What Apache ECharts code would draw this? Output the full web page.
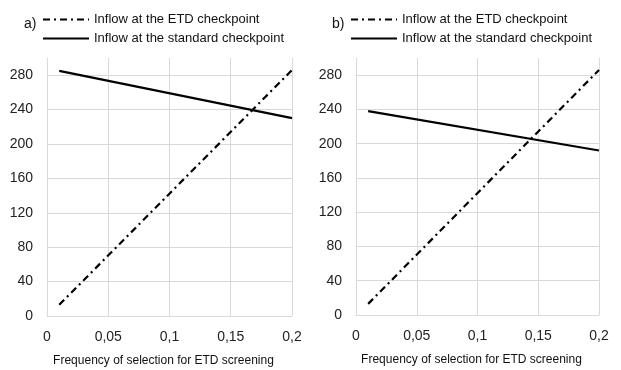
<!DOCTYPE html>
<html>
<head>
<meta charset="utf-8">
<script src="https://cdn.jsdelivr.net/npm/echarts@6/dist/echarts.min.js"></script>
<style>
  html, body { margin: 0; padding: 0; background: #fff; }
  #chart { width: 621px; height: 370px; }
</style>
</head>
<body>
<div id="chart"></div>
<script>
// values: [frequency, inflow]
const etdA = [[0.01, 13], [0.2, 286]];
const stdA = [[0.01, 285], [0.2, 230]];
const etdB = [[0.01, 13], [0.2, 286]];
const stdB = [[0.01, 238], [0.2, 192]];

const xTickLabels = ['0', '0,05', '0,1', '0,15', '0,2'];
const yTicks = [0, 40, 80, 120, 160, 200, 240, 280];

const ETD_NAME = 'Inflow at the ETD checkpoint';
const STD_NAME = 'Inflow at the standard checkpoint';
const FONT = '"Liberation Sans", Arial, sans-serif';

const chart = echarts.init(document.getElementById('chart'));

function xAxisFor(idx) {
    return {
        type: 'value', gridIndex: idx, min: 0, max: 0.2, interval: 0.05,
        name: 'Frequency of selection for ETD screening',
        nameLocation: 'middle', nameGap: 39,
        nameTextStyle: { fontFamily: FONT, fontSize: 12, color: '#111', padding: [0, 12, 0, 0] },
        axisLine: { show: true, lineStyle: { color: '#d9d9d9', width: 1 } },
        axisTick: { show: false },
        axisLabel: {
            fontFamily: FONT, fontSize: 14, color: '#222', margin: 14,
            formatter: (v, i) => xTickLabels[i]
        },
        splitLine: { show: true, lineStyle: { color: '#d9d9d9', width: 1 } }
    };
}

function yAxisFor(idx) {
    return {
        type: 'value', gridIndex: idx, min: 0, max: 300, interval: 40,
        axisLine: { show: false },
        axisTick: { show: false },
        axisLabel: {
            fontFamily: FONT, fontSize: 14, color: '#222', margin: 14,
            formatter: v => (yTicks.indexOf(v) >= 0 ? String(v) : '')
        },
        splitLine: { show: true, showMaxLine: false, lineStyle: { color: '#d9d9d9', width: 1 } }
    };
}

const etdStyle = { color: '#000', width: 2.2, type: [7, 4, 2, 4] };
const stdStyle = { color: '#000', width: 2.2, type: 'solid' };

function seriesFor(idx, etd, std) {
    return [
        {
            name: ETD_NAME, type: 'line', xAxisIndex: idx, yAxisIndex: idx,
            data: etd, symbol: 'none', color: '#000', lineStyle: etdStyle, silent: true
        },
        {
            name: STD_NAME, type: 'line', xAxisIndex: idx, yAxisIndex: idx,
            data: std, symbol: 'none', color: '#000', lineStyle: stdStyle, silent: true
        }
    ];
}

function legendFor(left) {
    return {
        orient: 'vertical', left: left, top: 8,
        itemWidth: 46, itemHeight: 14, itemGap: 6,
        itemStyle: { opacity: 0 },
        textStyle: { fontFamily: FONT, fontSize: 13, color: '#111' },
        data: [ETD_NAME, STD_NAME],
        selectedMode: false
    };
}

chart.setOption({
    animation: false,
    backgroundColor: '#fff',
    title: [
        { text: 'a)', left: 19, top: 12, textStyle: { fontFamily: FONT, fontSize: 14, fontWeight: 'normal', color: '#111' } },
        { text: 'b)', left: 327, top: 12, textStyle: { fontFamily: FONT, fontSize: 14, fontWeight: 'normal', color: '#111' } }
    ],
    legend: [legendFor(37), legendFor(345)],
    grid: [
        { left: 47, right: 329, top: 58, bottom: 54, outerBoundsMode: 'none' },
        { left: 356, right: 22, top: 58, bottom: 55, outerBoundsMode: 'none' }
    ],
    xAxis: [xAxisFor(0), xAxisFor(1)],
    yAxis: [yAxisFor(0), yAxisFor(1)],
    series: seriesFor(0, etdA, stdA).concat(seriesFor(1, etdB, stdB))
});
</script>
</body>
</html>
